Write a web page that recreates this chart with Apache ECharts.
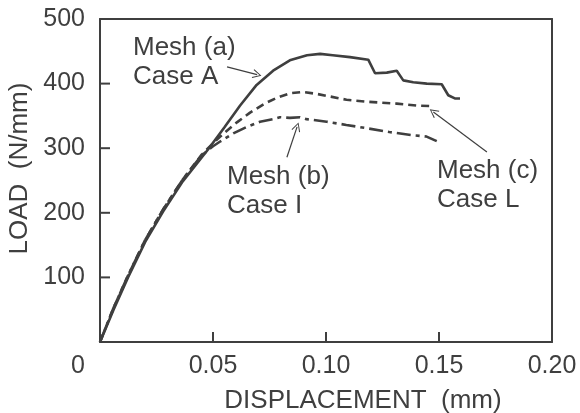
<!DOCTYPE html>
<html>
<head>
<meta charset="utf-8">
<script src="https://cdn.jsdelivr.net/npm/echarts@6/dist/echarts.min.js"></script>
<style>
  html, body { margin: 0; padding: 0; background: #fff; }
  #main { width: 580px; height: 413px; }
</style>
</head>
<body>
<div id="main"></div>
<script>
// load–displacement curves
const dispA = [0, 0.006, 0.0124, 0.02, 0.0279, 0.0367, 0.0478, 0.055, 0.062, 0.0693, 0.0766, 0.084, 0.0916, 0.0974, 0.103, 0.1106, 0.1187, 0.1217, 0.1269, 0.1313, 0.1342, 0.1386, 0.1446, 0.1512, 0.1541, 0.157, 0.1593];
const loadA = [0, 50, 100, 155, 202, 249, 298, 332, 366, 398, 420, 436, 444, 446, 444, 441, 437, 416, 417, 420, 405, 402, 400, 399, 382, 377, 377];

const dispC = [0, 0.006, 0.0124, 0.02, 0.0279, 0.0367, 0.045, 0.0501, 0.0544, 0.0606, 0.0664, 0.0734, 0.0783, 0.0840, 0.0899, 0.096, 0.1018, 0.1091, 0.118, 0.1313, 0.1401, 0.1475];
const loadC = [0, 53, 103, 158, 205, 252, 290, 308, 322, 340, 355, 370, 378, 385, 387, 384, 380, 375, 372, 369, 366, 365];

const dispB = [0, 0.006, 0.0124, 0.02, 0.0279, 0.0367, 0.045, 0.05, 0.053, 0.059, 0.065, 0.0708, 0.0766, 0.0796, 0.084, 0.0885, 0.0914, 0.1003, 0.109, 0.118, 0.128, 0.1385, 0.1445, 0.149];
const loadB = [0, 53, 103, 158, 205, 252, 289, 303, 310, 323, 333, 341, 345, 348, 347, 348, 345, 341, 336, 331, 325, 320, 318, 311];

const xTicks = [0, 0.05, 0.10, 0.15, 0.20];
const yTicks = [0, 100, 200, 300, 400, 500];

// annotation arrows: [from, to] in data units
const arrows = [
    [[0.0562, 426], [0.0695, 414]],
    [[0.0827, 286], [0.0872, 333]],
    [[0.1712, 294], [0.1475, 356]]
];

const ink = '#3f3f3f';
const fontFam = '"Liberation Sans", Arial, Helvetica, sans-serif';

function pairs(xs, ys) {
    return xs.map((x, i) => [x, ys[i]]);
}

// inner tick marks: [x, y, 0] on the bottom axis, [x, y, 1] on the left axis
const tickData = xTicks.slice(1, -1).map(x => [x, yTicks[0], 0])
    .concat(yTicks.slice(1, -1).map(y => [xTicks[0], y, 1]));

let myChart = echarts.init(document.getElementById('main'));

// open arrow head, tip at the top
const chevron = 'path://M5,0 L10,10 L9,10.7 L5,2.2 L1,10.7 L0,10 Z';

// plain frame lines for the top and right edges
const frameAxis = {
    type: 'value',
    axisLine: { show: true, onZero: false, lineStyle: { color: ink, width: 2 } },
    axisTick: { show: false },
    axisLabel: { show: false },
    splitLine: { show: false }
};

const option = {
    backgroundColor: '#fff',
    animation: false,
    grid: {
        left: 100,
        right: 28,
        top: 19,
        bottom: 71,
        outerBoundsMode: 'none'
    },
    xAxis: [
        {
            type: 'value',
            min: xTicks[0],
            max: xTicks[xTicks.length - 1],
            interval: 0.05,
            name: 'DISPLACEMENT  (mm)',
            nameLocation: 'middle',
            nameGap: 46,
            nameTextStyle: {
                color: ink,
                fontSize: 26,
                fontFamily: fontFam,
                padding: [0, 0, 0, 74]
            },
            axisLine: { show: true, lineStyle: { color: ink, width: 2 } },
            axisTick: { show: false },
            splitLine: { show: false },
            axisLabel: {
                color: ink,
                fontSize: 25,
                fontFamily: fontFam,
                margin: 12,
                formatter: function (v) {
                    return v === 0 ? '{z|0}' : v.toFixed(2);
                },
                rich: {
                    z: {
                        color: ink,
                        fontSize: 25,
                        fontFamily: fontFam,
                        padding: [0, 44, 0, 0]
                    }
                }
            }
        },
        Object.assign({ position: 'top', min: 0, max: 0.2 }, frameAxis)
    ],
    yAxis: [
        {
            type: 'value',
            min: yTicks[0],
            max: yTicks[yTicks.length - 1],
            interval: 100,
            name: 'LOAD  (N/mm)',
            nameLocation: 'middle',
            nameGap: 66,
            nameTextStyle: {
                color: ink,
                fontSize: 26,
                fontFamily: fontFam,
                padding: [0, 0, 0, 24]
            },
            axisLine: { show: true, lineStyle: { color: ink, width: 2 } },
            axisTick: { show: false },
            splitLine: { show: false },
            axisLabel: {
                color: ink,
                fontSize: 25,
                fontFamily: fontFam,
                margin: 15,
                showMinLabel: false
            }
        },
        Object.assign({ position: 'right', min: 0, max: 500 }, frameAxis)
    ],
    series: [
        {
            name: 'Mesh (a) Case A',
            type: 'line',
            showSymbol: false,
            data: pairs(dispA, loadA),
            lineStyle: { color: ink, width: 2.6 },
            markLine: {
                silent: true,
                symbol: ['none', chevron],
                symbolSize: [9, 9],
                label: { show: false },
                lineStyle: { color: ink, width: 1.2, type: 'solid' },
                itemStyle: { color: ink },
                data: arrows.map(a => [{ coord: a[0] }, { coord: a[1] }])
            }
        },
        {
            name: 'Mesh (c) Case L',
            type: 'line',
            showSymbol: false,
            data: pairs(dispC, loadC),
            lineStyle: { color: ink, width: 2.6, type: [8, 5] }
        },
        {
            name: 'Mesh (b) Case I',
            type: 'line',
            showSymbol: false,
            data: pairs(dispB, loadB),
            lineStyle: { color: ink, width: 2.6, type: [14, 5, 4, 5] }
        },
        {
            // inward tick marks, 10 px long
            type: 'custom',
            silent: true,
            clip: false,
            encode: { x: 0, y: 1 },
            data: tickData,
            renderItem: function (params, api) {
                const p = api.coord([api.value(0), api.value(1)]);
                const onLeft = api.value(2) === 1;
                return {
                    type: 'line',
                    shape: {
                        x1: p[0], y1: p[1],
                        x2: onLeft ? p[0] + 10 : p[0],
                        y2: onLeft ? p[1] : p[1] - 10
                    },
                    style: { stroke: ink, lineWidth: 2 }
                };
            }
        }
    ],
    graphic: [
        {
            type: 'text', x: 133, y: 62,
            style: { text: 'Mesh (a)\nCase A', fill: ink, fontSize: 26, fontFamily: fontFam, lineHeight: 29, verticalAlign: 'middle' }
        },
        {
            type: 'text', x: 227, y: 191,
            style: { text: 'Mesh (b)\nCase I', fill: ink, fontSize: 26, fontFamily: fontFam, lineHeight: 29, verticalAlign: 'middle' }
        },
        {
            type: 'text', x: 437, y: 185,
            style: { text: 'Mesh (c)\nCase L', fill: ink, fontSize: 26, fontFamily: fontFam, lineHeight: 29, verticalAlign: 'middle' }
        }
    ]
};

myChart.setOption(option);
</script>
</body>
</html>
